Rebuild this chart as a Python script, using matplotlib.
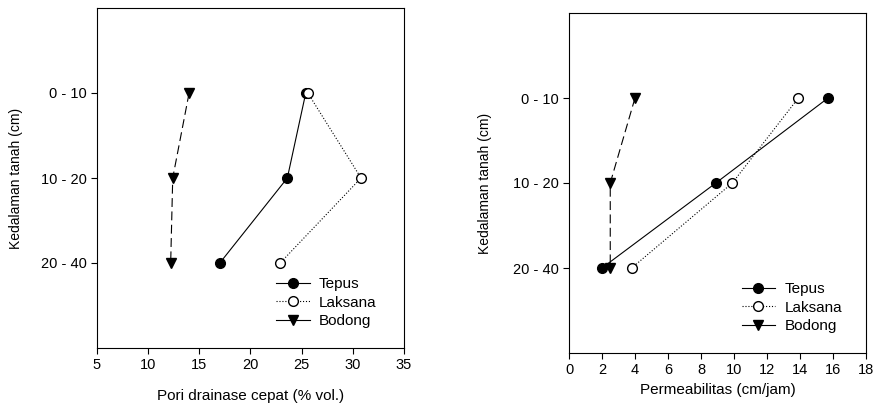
import numpy as np
import matplotlib.pyplot as plt
from matplotlib.lines import Line2D

plt.rcParams['font.family'] = ['Liberation Sans', 'DejaVu Sans']

kedalaman = ["0 - 10", "10 - 20", "20 - 40"]
posisi = [1, 2, 3]  # posisi kategori kedalaman

# pori drainase cepat (% vol.)
pori_tepus = [25.4, 23.6, 17.0]
pori_laksana = [25.6, 30.8, 22.9]
pori_bodong = [14.0, 12.4, 12.2]

# permeabilitas (cm/jam)
perm_tepus = [15.7, 8.9, 2.0]
perm_laksana = [13.9, 9.9, 3.8]
perm_bodong = [4.0, 2.5, 2.5]

fig = plt.figure(figsize=(8.74, 4.08), dpi=100)
ax1 = fig.add_axes([97/874, 1-348/408, 307/874, 340/408])
ax2 = fig.add_axes([569/874, 1-353/408, 297/874, 340/408])


def gambar(ax, tepus, laksana, bodong, anchor):
    ax.plot(tepus, posisi, '-', color='black', lw=0.8, marker='o', ms=7,
            mfc='black', mec='black')
    ax.plot(laksana, posisi, ':', color='black', lw=0.8, marker='o', ms=7,
            mfc='white', mec='black')
    ax.plot(bodong, posisi, color='black', lw=0.8, dashes=(8, 4), marker='v',
            ms=7, mfc='black', mec='black')
    ax.set_ylim(4, 0)
    ax.set_yticks(posisi)
    ax.set_yticklabels(kedalaman)
    ax.set_ylabel("Kedalaman tanah (cm)", fontsize=10)
    ax.tick_params(direction='out', length=4, width=0.8, labelsize=10.5,
                   top=False, right=False)
    for s in ax.spines.values():
        s.set_linewidth(0.8)
    # legenda (Bodong tampil garis penuh seperti aslinya)
    handles = [
        Line2D([], [], ls='-', color='black', lw=0.8, marker='o', ms=7, mfc='black'),
        Line2D([], [], ls=':', color='black', lw=0.8, marker='o', ms=7, mfc='white'),
        Line2D([], [], ls='-', color='black', lw=0.8, marker='v', ms=7, mfc='black'),
    ]
    ax.legend(handles, ["Tepus", "Laksana", "Bodong"], loc='lower right',
              bbox_to_anchor=anchor, frameon=False, fontsize=11,
              handlelength=2.2, handletextpad=0.6, labelspacing=0.3,
              borderaxespad=0)


gambar(ax1, pori_tepus, pori_laksana, pori_bodong, (0.93, 0.04))
ax1.set_xlim(5, 35)
ax1.set_xticks([5, 10, 15, 20, 25, 30, 35])
ax1.set_xlabel("Pori drainase cepat (% vol.)", fontsize=11, labelpad=12)
ax1.yaxis.set_label_coords(-0.24, 0.5)

gambar(ax2, perm_tepus, perm_laksana, perm_bodong, (0.94, 0.04))
ax2.set_xlim(0, 18)
ax2.set_xticks(np.arange(0, 19, 2))
ax2.set_xlabel("Permeabilitas (cm/jam)", fontsize=11, labelpad=4)
ax2.yaxis.set_label_coords(-0.26, 0.5)

plt.savefig("out.png", dpi=100)
